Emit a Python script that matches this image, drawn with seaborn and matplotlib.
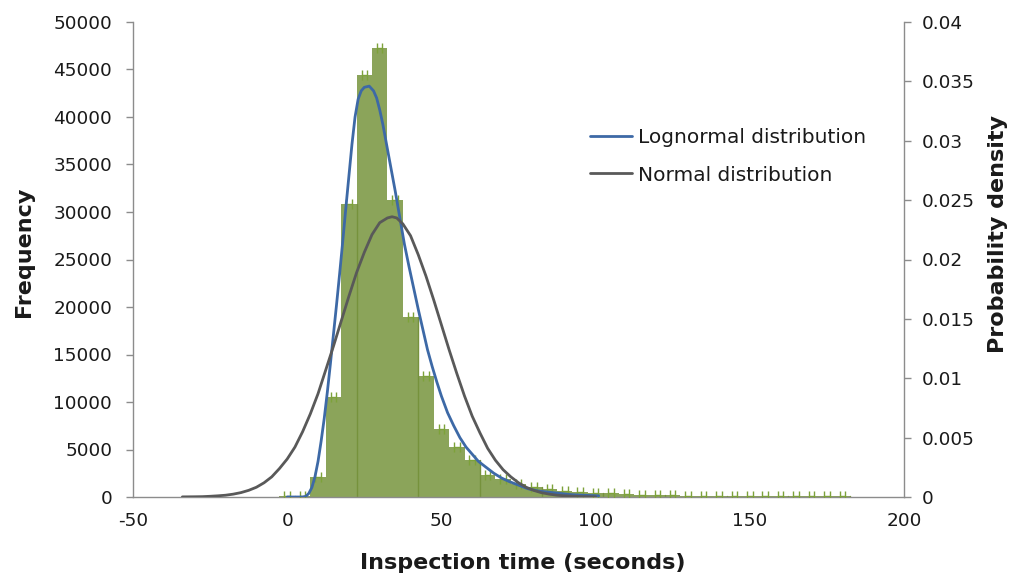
import numpy as np
import pandas as pd
import matplotlib
matplotlib.use("Agg")
import matplotlib.pyplot as plt
from matplotlib.ticker import FuncFormatter
import seaborn as sns

# ---------------- data ----------------
bin_centers = [0, 5, 10, 15, 20, 25, 30, 35, 40, 45, 50, 55, 60, 65, 70, 75, 80, 85,
               90, 95, 100, 105, 110, 115, 120, 125, 130, 135, 140, 145, 150, 155,
               160, 165, 170, 175, 180]
frequency = [100, 150, 2150, 10500, 30800, 44400, 47300, 31300, 19000, 12700, 7200,
             5300, 3850, 2350, 1900, 1400, 1100, 850, 650, 560, 460, 390, 320, 260,
             220, 180, 150, 130, 120, 110, 100, 100, 90, 90, 80, 80, 70]
x_error = 0.9  # horizontal error bar half-width (seconds)

lognorm_x = [0, 2.5, 5, 6, 7, 8, 9, 10, 11, 12, 13, 14, 15, 16, 17, 18, 19, 20, 21,
             22, 23, 24, 25, 26.6, 28, 29, 30, 31, 32, 33, 34, 35, 36, 37, 38, 39.5,
             41, 42.5, 44, 45.5, 47, 48.5, 50, 52, 54, 56, 58, 60, 62, 64.5, 67, 69.5,
             72, 75, 78, 81.5, 85, 88.5, 92, 96, 101]
lognorm_pdf = [0, 0, 0, 0.00005, 0.0003, 0.0008, 0.0017, 0.0030, 0.0047, 0.0066,
               0.0088, 0.0112, 0.0137, 0.0162, 0.0188, 0.0215, 0.0243, 0.0270, 0.0297,
               0.0320, 0.0335, 0.0342, 0.0345, 0.0346, 0.0342, 0.0336, 0.0326, 0.0314,
               0.0300, 0.0286, 0.0272, 0.0258, 0.0243, 0.0228, 0.0213, 0.0194, 0.0176,
               0.0158, 0.0141, 0.0124, 0.0110, 0.0097, 0.0085, 0.0071, 0.0060, 0.0050,
               0.0042, 0.0036, 0.0030, 0.0025, 0.0020, 0.0016, 0.0013, 0.0010, 0.0007,
               0.0005, 0.0004, 0.0003, 0.0002, 0.00015, 0.0001]

normal_x = [-34, -30, -27.5, -25, -22.5, -20, -17.5, -15, -12.5, -10, -7.5, -5, -2.5,
            0, 2.5, 5, 7.5, 10, 12.5, 15, 17.5, 20, 22.5, 25, 27.5, 30, 32.5, 34, 35.5,
            37.5, 40, 42.5, 45, 47.5, 50, 52.5, 55, 57.5, 60, 62.5, 65, 67.5, 70, 72.5,
            75, 77.5, 80, 82.5, 85, 87.5, 90, 95, 100]
normal_pdf = [0.00001, 0.00002, 0.00003, 0.00006, 0.00010, 0.00015, 0.00024, 0.00037,
              0.00056, 0.00082, 0.00120, 0.0017, 0.0024, 0.0032, 0.0042, 0.0055,
              0.0070, 0.0087, 0.0107, 0.0127, 0.0148, 0.0169, 0.0189, 0.0206, 0.0221,
              0.0231, 0.0235, 0.0236, 0.0235, 0.0230, 0.0220, 0.0204, 0.0186, 0.0166,
              0.0145, 0.0124, 0.0104, 0.0085, 0.0068, 0.0054, 0.0041, 0.0031, 0.0023,
              0.0017, 0.0012, 0.00082, 0.00055, 0.00036, 0.00024, 0.00015, 0.0001,
              0.00004, 0.00001]

x_ticks = [-50, 0, 50, 100, 150, 200]
freq_ticks = list(range(0, 50001, 5000))
dens_ticks = [0, 0.005, 0.01, 0.015, 0.02, 0.025, 0.03, 0.035, 0.04]

# ---------------- style ----------------
sns.set_style("white")
plt.rcParams["font.family"] = ["DejaVu Sans"]
plt.rcParams["axes.linewidth"] = 1.0

bar_color = "#8BA45A"
edge_color = "#76923C"
err_color = "#7DA23A"
blue = "#3D69A6"
gray = "#595959"
spine_color = "#8C8C8C"
txt = "#1a1a1a"
tick_fs = 13.3
legend_fs = 14.5
label_fs = 16

fig = plt.figure(figsize=(10.15, 5.82), dpi=100)
ax = fig.add_axes([133 / 1015, 1 - 497 / 582, 771 / 1015, 475 / 582])

hist_df = pd.DataFrame({"center": bin_centers, "freq": frequency})
sns.histplot(data=hist_df, x="center", weights="freq", binwidth=5,
             binrange=(-2.5, 182.5), color=bar_color, alpha=1.0, linewidth=0,
             ax=ax)

# darker separator lines visible at the right edge of every 4th bar
for p in ax.patches:
    cx = p.get_x() + p.get_width() / 2
    if abs(cx % 20) < 1e-6 and p.get_height() > 0:
        xr = p.get_x() + p.get_width()
        ax.plot([xr, xr], [0, p.get_height()], color=edge_color, lw=1.0, zorder=2)

ax.errorbar(bin_centers, frequency, xerr=x_error, fmt="none", ecolor=err_color,
            elinewidth=1.0, capsize=3.5, capthick=1.0, zorder=3)

ax.set_xlim(-50, 200)
ax.set_ylim(0, 50000)
ax.set_xticks(x_ticks)
ax.set_yticks(freq_ticks)
ax.xaxis.set_major_formatter(FuncFormatter(lambda v, p: f"{v:g}"))
ax.yaxis.set_major_formatter(FuncFormatter(lambda v, p: f"{int(v)}"))

ax2 = ax.twinx()
line_df1 = pd.DataFrame({"x": lognorm_x, "y": lognorm_pdf})
line_df2 = pd.DataFrame({"x": normal_x, "y": normal_pdf})
sns.lineplot(data=line_df1, x="x", y="y", ax=ax2, color=blue, lw=2.0,
             label="Lognormal distribution", zorder=4)
sns.lineplot(data=line_df2, x="x", y="y", ax=ax2, color=gray, lw=2.0,
             label="Normal distribution", zorder=4)
ax2.set_ylim(0, 0.04)
ax2.set_yticks(dens_ticks)
ax2.yaxis.set_major_formatter(FuncFormatter(lambda v, p: f"{v:g}"))
ax2.set_xlim(-50, 200)

for a in (ax, ax2):
    a.spines["top"].set_visible(False)
    for s in ("left", "right", "bottom"):
        a.spines[s].set_color(spine_color)
    a.tick_params(axis="both", colors=spine_color, labelcolor=txt,
                  labelsize=tick_fs, length=5, width=1, direction="out")

ax.tick_params(axis="y", pad=10)
ax.tick_params(axis="x", pad=6)
ax2.tick_params(axis="y", pad=7.5)

ax.spines["right"].set_visible(False)
ax2.spines["left"].set_visible(False)
ax2.spines["bottom"].set_visible(False)

ax.set_xlabel("Inspection time (seconds)", fontsize=label_fs, fontweight="bold", color=txt)
ax.set_ylabel("Frequency", fontsize=label_fs, fontweight="bold", color=txt)
ax2.set_ylabel("Probability density", fontsize=label_fs, fontweight="bold", color=txt)
ax.xaxis.set_label_coords(0.505, -0.117)
ax.yaxis.set_label_coords(-0.129, 0.517)
ax2.yaxis.set_label_coords(1.109, 0.553)

leg = ax2.legend(loc="upper left", bbox_to_anchor=(0.593, 0.776), frameon=False,
                 fontsize=legend_fs, handlelength=2.1, handletextpad=0.25,
                 labelspacing=0.9, borderaxespad=0, borderpad=0)
for t in leg.get_texts():
    t.set_color(txt)

fig.savefig("out.png", dpi=100)
